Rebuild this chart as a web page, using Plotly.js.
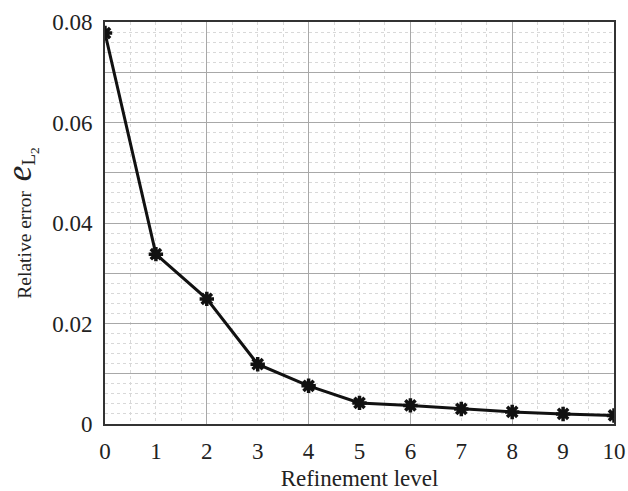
<!DOCTYPE html>
<html>
<head>
<meta charset="utf-8">
<script src="https://cdn.plot.ly/plotly-3.0.1.min.js"></script>
<style>html,body{margin:0;padding:0;background:#fff;}#chart{width:628px;height:491px;}</style>
</head>
<body>
<div id="chart"></div>
<script>
const refinementLevel = [0, 1, 2, 3, 4, 5, 6, 7, 8, 9, 10];
const relativeError = [0.0778, 0.0338, 0.0249, 0.0119, 0.0076, 0.0042, 0.0037, 0.0030, 0.0024, 0.0020, 0.0017];
const yTickVals = [0, 0.01, 0.02, 0.03, 0.04, 0.05, 0.06, 0.07, 0.08];
const yTickText = ['0', ' ', '0.02', ' ', '0.04', ' ', '0.06', ' ', '0.08'];
const xTickVals = [0, 1, 2, 3, 4, 5, 6, 7, 8, 9, 10];
const xTickText = ['0', '1', '2', '3', '4', '5', '6', '7', '8', '9', '10'];

const serif = '"Liberation Serif", "Times New Roman", serif';

const traces = [
  {
    x: refinementLevel, y: relativeError, xaxis: 'x2', yaxis: 'y',
    mode: 'none', showlegend: false, hoverinfo: 'skip', type: 'scatter'
  },
  {
    x: refinementLevel, y: relativeError, xaxis: 'x', yaxis: 'y',
    mode: 'lines+markers', type: 'scatter', showlegend: false,
    line: {color: '#111', width: 3},
    marker: {symbol: 'asterisk', size: 12, color: '#111', line: {color: '#111', width: 3.5}}
  }
];

const layout = {
  width: 628, height: 491,
  margin: {l: 105, r: 14, t: 22, b: 67},
  paper_bgcolor: '#fff', plot_bgcolor: '#fff',
  font: {family: serif, color: '#222', size: 23},
  xaxis: {
    range: [0, 10], tickmode: 'array', tickvals: xTickVals, ticktext: xTickText,
    showgrid: true, gridcolor: '#d8d8d8', griddash: 'dot', gridwidth: 1,
    minor: {dtick: 0.5, showgrid: true, gridcolor: '#d8d8d8', griddash: 'dot', gridwidth: 1},
    zeroline: false, showline: true, linecolor: '#333', linewidth: 2, mirror: true,
    ticks: '', ticklabelstandoff: 5, tickfont: {family: serif, size: 23, color: '#222'},
    title: {text: 'Refinement level', font: {family: serif, size: 23, color: '#222'}, standoff: 8}
  },
  xaxis2: {
    range: [0, 10], overlaying: 'x', anchor: 'y', side: 'bottom', dtick: 2, tick0: 0,
    showgrid: true, gridcolor: '#a8a8a8', gridwidth: 1,
    showticklabels: false, ticks: '', zeroline: false, showline: false
  },
  yaxis: {
    range: [0, 0.08], tickmode: 'array', tickvals: yTickVals, ticktext: yTickText,
    showgrid: true, gridcolor: '#a8a8a8', gridwidth: 1,
    minor: {dtick: 0.002, tick0: 0, showgrid: true, gridcolor: '#d8d8d8', griddash: 'dot', gridwidth: 1},
    zeroline: false, showline: true, linecolor: '#333', linewidth: 2, mirror: true,
    ticks: '', ticklabelstandoff: 6, tickfont: {family: serif, size: 23, color: '#222'},
    title: {
      text: "Relative error  <i><span style='font-size:35px'>e</span></i><sub><span style='font-size:19px'>L<sub>2</sub></span></sub>",
      font: {family: serif, size: 19.5, color: '#222'}, standoff: 29
    }
  }
};

Plotly.newPlot('chart', traces, layout, {displayModeBar: false, staticPlot: true});
</script>
</body>
</html>
